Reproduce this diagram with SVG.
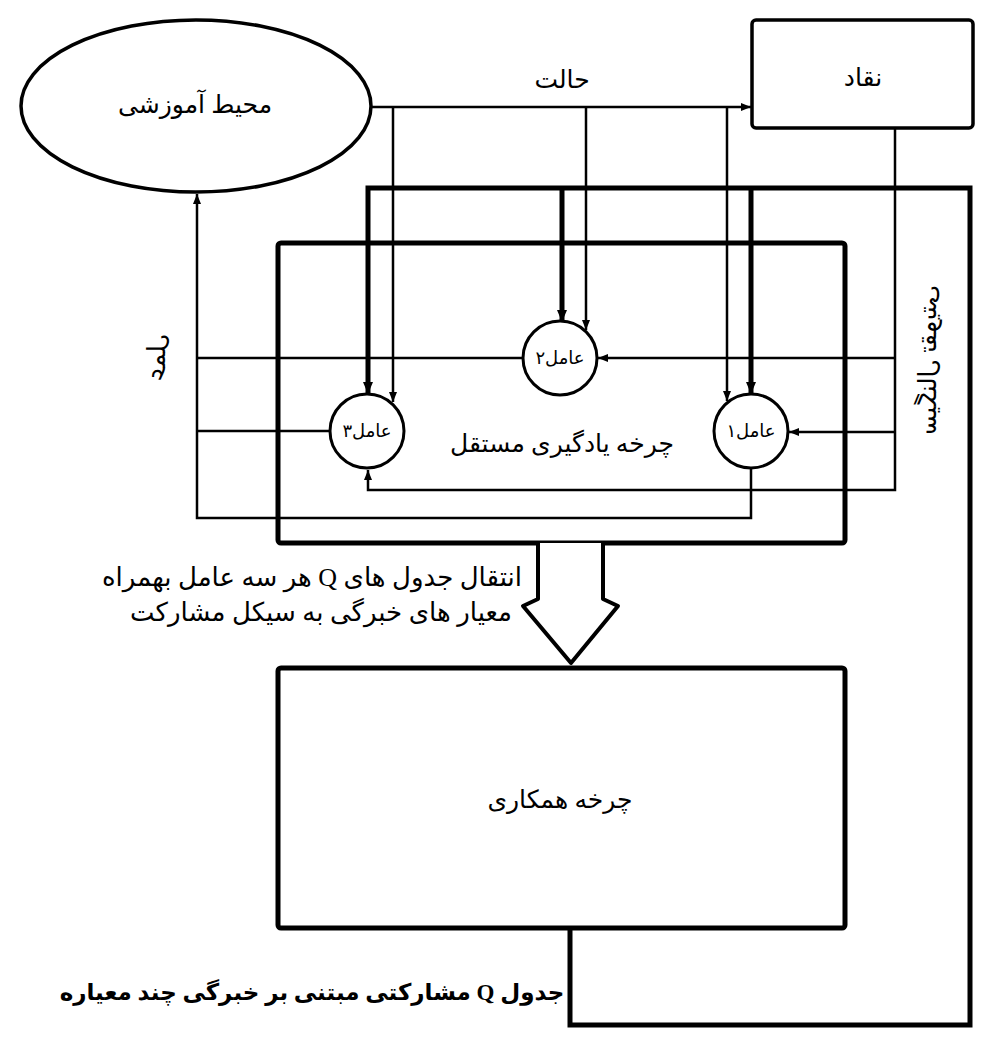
<svg xmlns="http://www.w3.org/2000/svg" width="991" height="1040" viewBox="0 0 991 1040">
<style>
.t{font-family:"Liberation Serif","DejaVu Sans",serif;fill:#000;text-anchor:middle;direction:rtl}
.shape{fill:#fff;stroke:#000}
.thin{fill:none;stroke:#000;stroke-width:2.5}
.thick{fill:none;stroke:#000;stroke-width:5}
</style>
<defs>
<marker id="a" markerUnits="userSpaceOnUse" markerWidth="10" markerHeight="8" refX="10" refY="4" orient="auto"><path d="M0,0 L10,4 L0,8 z" fill="#000"/></marker>
<marker id="b" markerUnits="userSpaceOnUse" markerWidth="12" markerHeight="10" refX="12" refY="5" orient="auto"><path d="M0,0 L12,5 L0,10 z" fill="#000"/></marker>
</defs>
<rect width="991" height="1040" fill="#fff"/>
<g id="inner-cycle">
<rect class="shape" x="278" y="243" width="567" height="300" rx="3" stroke-width="5"/>
<text class="t" x="562" y="452" font-size="25">چرخه یادگیری مستقل</text>
</g>
<g id="connectors">
<path class="thin" d="M371,107 H751" marker-end="url(#a)"/>
<path class="thin" d="M393,107 V402" marker-end="url(#a)"/>
<path class="thin" d="M586,107 V330" marker-end="url(#a)"/>
<path class="thin" d="M727,107 V401" marker-end="url(#a)"/>
<path class="thin" d="M895,128 V490 H368 V470" marker-end="url(#a)"/>
<path class="thin" d="M895,358 H598" marker-end="url(#a)"/>
<path class="thin" d="M895,432 H789" stroke-width="3.5" marker-end="url(#a)"/>
<path class="thin" d="M523,358 H197"/>
<path class="thin" d="M330,431 H197"/>
<path class="thin" d="M751,468 V518 H197 V194" marker-end="url(#a)"/>
<path class="thick" d="M570,928 V1025 H970 V188 H368 V394" marker-end="url(#b)"/>
<path class="thick" d="M562,188 V322" marker-end="url(#b)"/>
<path class="thick" d="M751,188 V394" marker-end="url(#b)"/>
<polyline class="shape" stroke-width="4" stroke-linejoin="round" points="538,543 538,599 523,606 571,663 618,606 603,599 603,543"/>
</g>
<g id="environment">
<ellipse class="shape" cx="196" cy="106" rx="175" ry="86" stroke-width="3.5"/>
<text class="t" x="195" y="113" font-size="25">محیط آموزشی</text>
</g>
<g id="critic">
<rect class="shape" x="752" y="20" width="221" height="108" rx="4" stroke-width="3.5"/>
<text class="t" x="863" y="86" font-size="25">نقاد</text>
</g>
<g id="agent1">
<circle class="shape" cx="751" cy="431" r="37" stroke-width="3"/>
<text class="t" x="751" y="437" font-size="18">عامل۱</text>
</g>
<g id="agent2">
<circle class="shape" cx="560" cy="358" r="37" stroke-width="3"/>
<text class="t" x="560" y="364" font-size="18">عامل۲</text>
</g>
<g id="agent3">
<circle class="shape" cx="367" cy="431" r="37" stroke-width="3"/>
<text class="t" x="367" y="437" font-size="18">عامل۳</text>
</g>
<g id="cooperation">
<rect class="shape" x="278" y="668" width="567" height="260" rx="3" stroke-width="5"/>
<text class="t" x="560" y="808" font-size="25">چرخه همکاری</text>
</g>
<g id="labels">
<text class="t" x="562" y="88" font-size="25">حالت</text>
<text class="t" transform="translate(928,360) scale(-1,1) rotate(90)" x="0" y="8" font-size="25">سیگنال تقویتی</text>
<text class="t" transform="translate(158,358) scale(-1,1) rotate(90)" x="0" y="7" font-size="25">عمل</text>
<text class="t" x="312" y="586" font-size="26">انتقال جدول های Q هر سه عامل بهمراه</text>
<text class="t" x="321" y="621" font-size="26">معیار های خبرگی به سیکل مشارکت</text>
<text class="t" x="312" y="1000" font-size="23" font-weight="bold">جدول Q مشارکتی مبتنی بر خبرگی چند معیاره</text>
</g>
</svg>
